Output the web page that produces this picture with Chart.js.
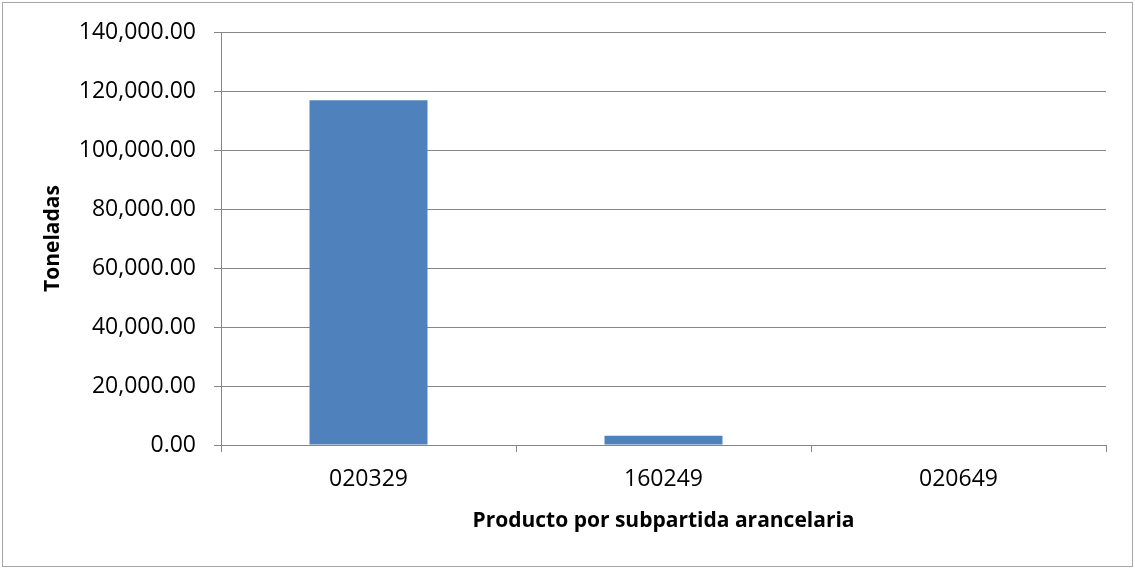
<!DOCTYPE html>
<html>
<head>
<meta charset="utf-8">
<script src="https://cdn.jsdelivr.net/npm/chart.js@4/dist/chart.umd.min.js"></script>
<style>
  html, body { margin: 0; padding: 0; background: #fff; }
  #wrap { position: relative; width: 1135px; height: 569px; }
  #frame {
    position: absolute; left: 2px; top: 2px; width: 1129px; height: 563px;
    border: 1px solid #a6a6a6; pointer-events: none;
  }
  canvas { position: absolute; left: 0; top: 0; }
</style>
</head>
<body>
<div id="wrap">
  <canvas id="chart" width="1135" height="569"></canvas>
  <div id="frame"></div>
</div>
<script>
// ── DATA ──
const categories = ['020329', '160249', '020649'];
const toneladas  = [116900, 3150, 0];
const yTicks     = [0, 20000, 40000, 60000, 80000, 100000, 120000, 140000];

const FONT      = "'Open Sans'";
const AXIS_GRAY = '#868686';
const BAR_BLUE  = '#4f81bd';

const fmt = v => v.toLocaleString('en-US', { minimumFractionDigits: 2, maximumFractionDigits: 2 });

const ctx = document.getElementById('chart').getContext('2d');
new Chart(ctx, {
  type: 'bar',
  data: {
    labels: categories,
    datasets: [{
      data: toneladas,
      backgroundColor: BAR_BLUE,
      borderWidth: 0,
      categoryPercentage: 1,
      barPercentage: 0.4,
    }],
  },
  options: {
    responsive: false,
    animation: false,
    layout: { padding: { top: 32, right: 29, left: 0, bottom: 0 } },
    plugins: {
      legend:  { display: false },
      tooltip: { enabled: false },
    },
    scales: {
      x: {
        grid: {
          offset: true,
          drawOnChartArea: false,
          drawTicks: true,
          tickLength: 7,
          color: AXIS_GRAY,
        },
        border: { color: AXIS_GRAY, width: 1 },
        ticks: { color: '#000', padding: 14, font: { family: FONT, size: 23 } },
        title: {
          display: true,
          text: 'Producto por subpartida arancelaria',
          color: '#000',
          font: { family: FONT, size: 21, weight: 'bold' },
          padding: { top: 0, bottom: 35 },
        },
        afterFit: s => { s.height = 124; },
      },
      y: {
        min: yTicks[0],
        max: yTicks[yTicks.length - 1],
        afterBuildTicks: s => { s.ticks = yTicks.map(v => ({ value: v })); },
        grid: { color: AXIS_GRAY, tickLength: 7 },
        border: { color: AXIS_GRAY, width: 1 },
        ticks: {
          color: '#000',
          padding: 18,
          font: { family: FONT, size: 23 },
          callback: v => fmt(v),
        },
        title: {
          display: true,
          text: 'Toneladas',
          color: '#000',
          font: { family: FONT, size: 21, weight: 'bold' },
          padding: { top: 40, bottom: 0 },
        },
        afterFit: s => { s.width = 221; },
      },
    },
  },
});
</script>
</body>
</html>
